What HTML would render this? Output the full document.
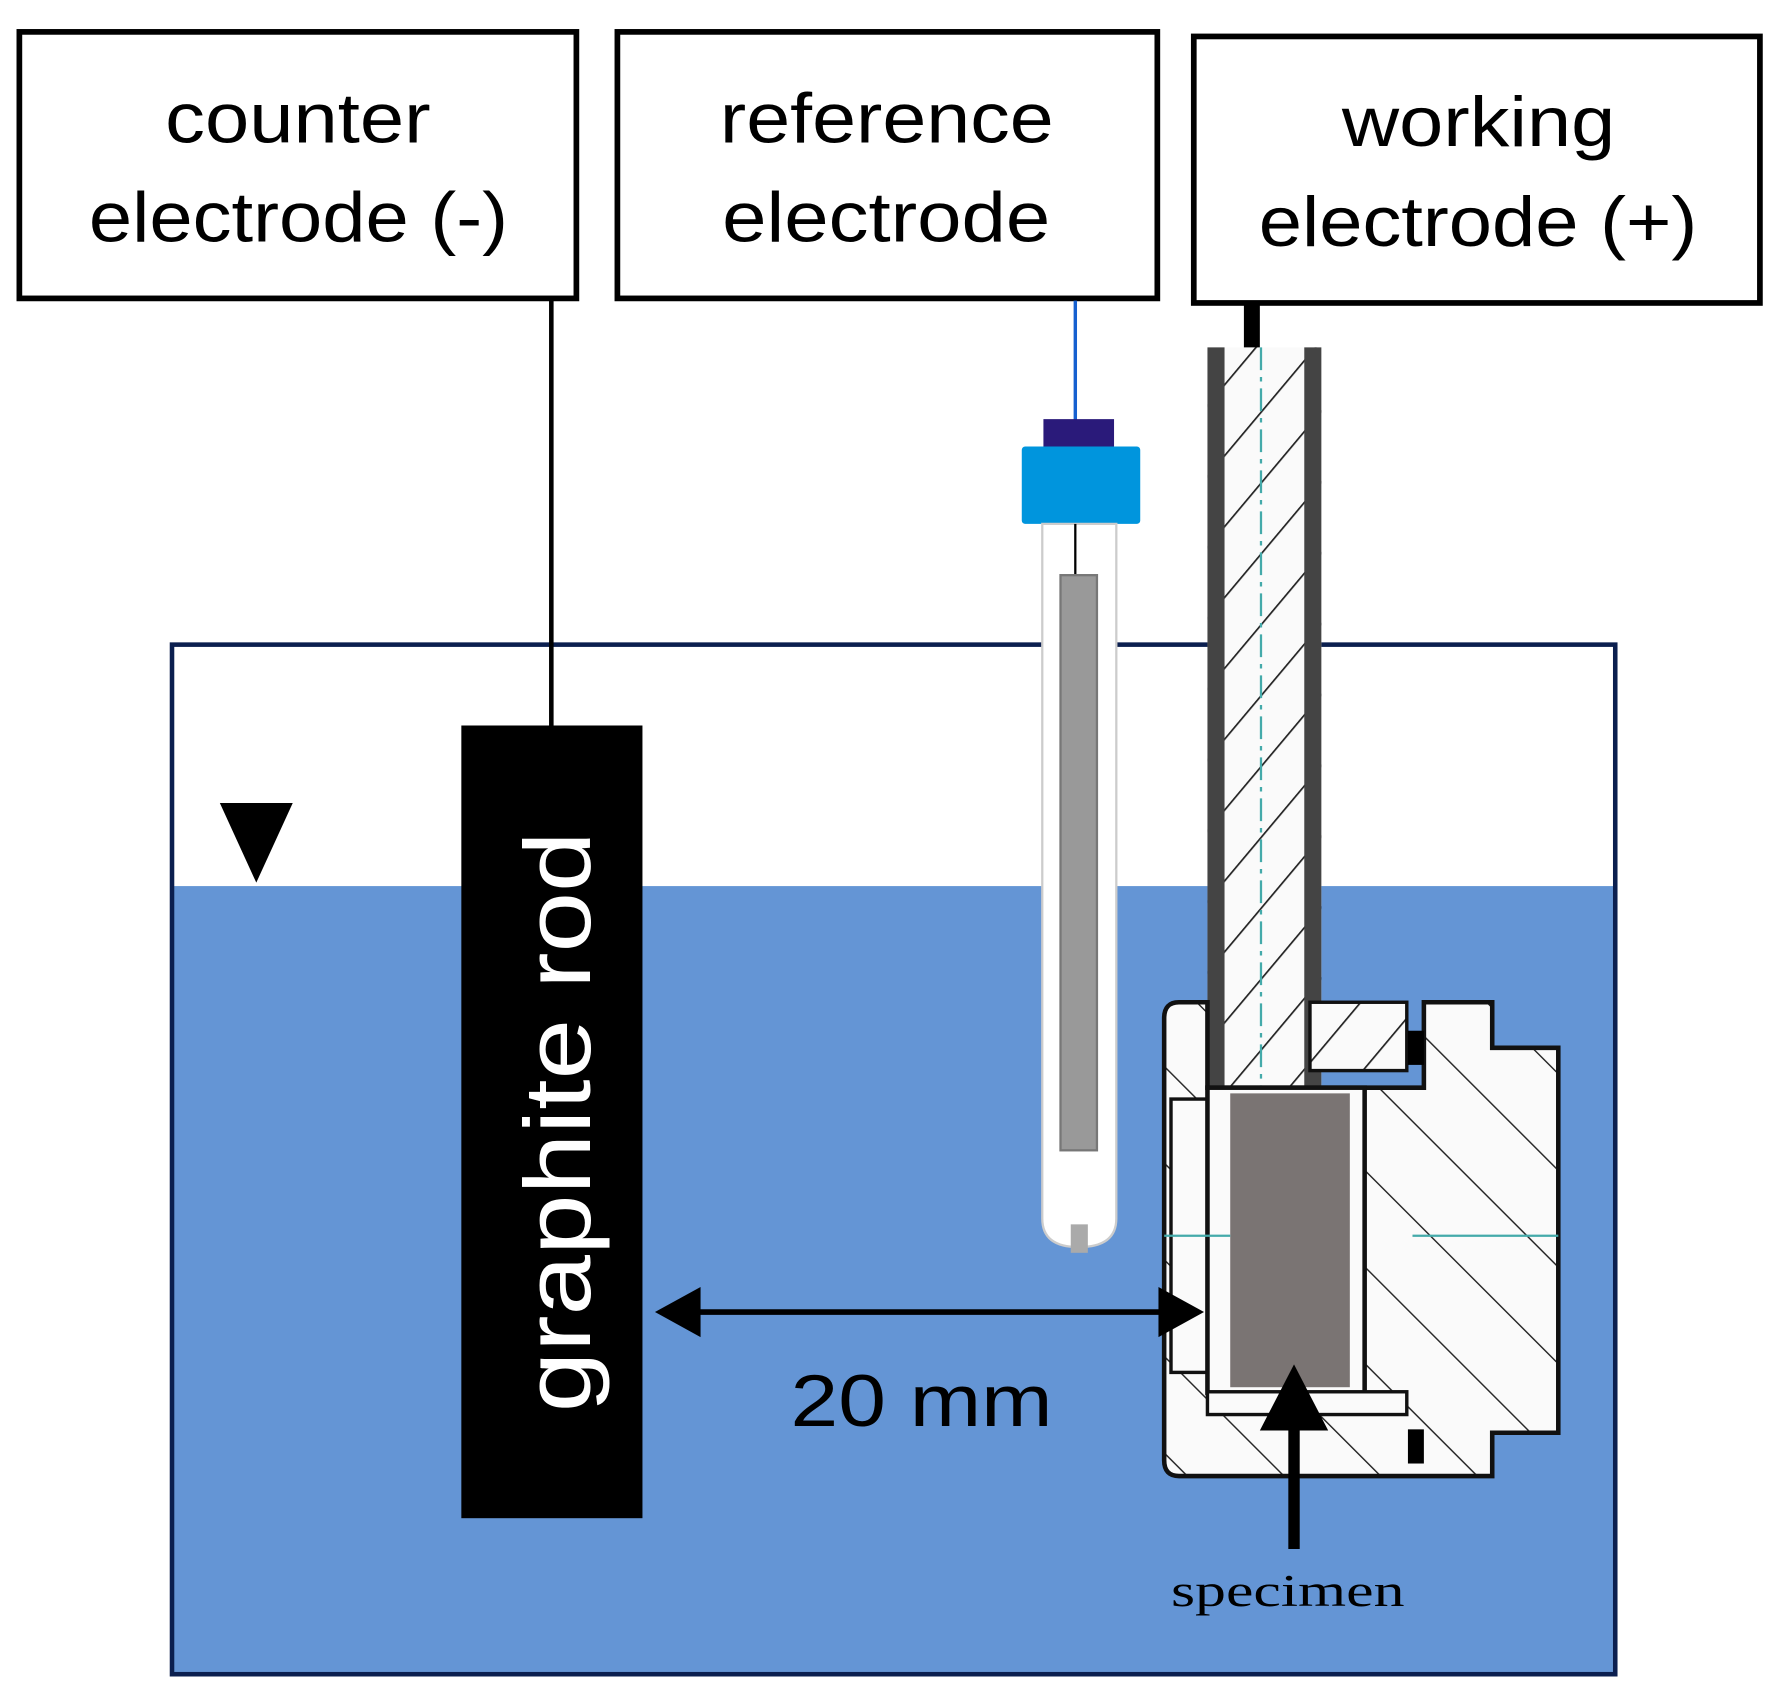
<!DOCTYPE html>
<html><head><meta charset="utf-8"><style>
html,body{margin:0;padding:0;background:#fff;}
svg{display:block;}
</style></head><body>
<svg width="1777" height="1697" viewBox="0 0 1560 1490" preserveAspectRatio="none" xmlns="http://www.w3.org/2000/svg">
<defs>
<pattern id="h" width="40" height="40" patternUnits="userSpaceOnUse" patternTransform="rotate(40)">
<rect width="40" height="40" fill="#fafafa"/><line x1="0" y1="0" x2="0" y2="40" stroke="#222" stroke-width="3"/>
</pattern>
<pattern id="h2" width="60" height="60" patternUnits="userSpaceOnUse" patternTransform="rotate(-45)">
<rect width="60" height="60" fill="#fafafa"/><line x1="0" y1="0" x2="0" y2="60" stroke="#222" stroke-width="2.5"/>
</pattern>
</defs>
<g fill="#fff" stroke="#000" stroke-width="5">
<rect x="17" y="28" width="489" height="234"/>
<rect x="542" y="28" width="474" height="234"/>
<rect x="1048" y="32" width="497" height="234"/>
</g>
<g font-family="Liberation Sans, sans-serif" font-size="62" fill="#000" lengthAdjust="spacingAndGlyphs">
<text x="145" y="125" textLength="233" lengthAdjust="spacingAndGlyphs">counter</text>
<text x="78" y="212" textLength="368" lengthAdjust="spacingAndGlyphs">electrode (-)</text>
<text x="632" y="125" textLength="293" lengthAdjust="spacingAndGlyphs">reference</text>
<text x="634" y="212" textLength="288" lengthAdjust="spacingAndGlyphs">electrode</text>
<text x="1178" y="128" textLength="240" lengthAdjust="spacingAndGlyphs">working</text>
<text x="1105" y="216" textLength="385" lengthAdjust="spacingAndGlyphs">electrode (+)</text>
</g>
<rect x="151" y="778" width="1267" height="692" fill="#6495d5"/>
<rect x="151" y="566" width="1267" height="904" fill="none" stroke="#0b1f4f" stroke-width="4"/>
<polygon points="193,705 257,705 225,775" fill="#000"/>
<line x1="484" y1="262" x2="484" y2="637" stroke="#000" stroke-width="4"/>
<rect x="405" y="637" width="159" height="696" fill="#000"/>
<text transform="translate(518,985) rotate(-90)" font-family="Liberation Sans, sans-serif" font-size="82" fill="#fff" text-anchor="middle" textLength="510" lengthAdjust="spacingAndGlyphs">graphite rod</text>
<line x1="944" y1="264" x2="944" y2="370" stroke="#1560d0" stroke-width="3"/>
<rect x="916" y="368" width="62" height="26" fill="#2a1a7a"/>
<rect x="897" y="392" width="104" height="68" fill="#0095dd" rx="3"/>
<path d="M915,460 L980,460 L980,1070 Q980,1095 947,1095 Q915,1095 915,1070 Z" fill="#fff" stroke="#ccc" stroke-width="2"/>
<line x1="944" y1="460" x2="944" y2="505" stroke="#000" stroke-width="2"/>
<rect x="931" y="505" width="32" height="505" fill="#999" stroke="#777" stroke-width="2"/>
<rect x="940" y="1075" width="15" height="25" fill="#aaa"/>
<rect x="1092" y="266" width="14" height="40" fill="#000"/>
<rect x="1060" y="305" width="100" height="650" fill="url(#h)"/>
<rect x="1060" y="305" width="15" height="650" fill="#444"/>
<rect x="1145" y="305" width="15" height="650" fill="#444"/>
<line x1="1107" y1="305" x2="1107" y2="955" stroke="#4aa" stroke-width="2" stroke-dasharray="20,6,4,6"/>
<path d="M1035,880 L1060,880 L1060,955 L1250,955 L1250,880 L1310,880 L1310,920 L1368,920 L1368,1258 L1310,1258 L1310,1296 L1035,1296 Q1022,1296 1022,1282 L1022,894 Q1022,880 1035,880 Z" fill="url(#h2)" stroke="#111" stroke-width="4"/>
<rect x="1150" y="880" width="85" height="60" fill="url(#h)" stroke="#111" stroke-width="3"/>
<rect x="1236" y="905" width="14" height="30" fill="#000"/>
<rect x="1236" y="1255" width="14" height="30" fill="#000"/>
<rect x="1028" y="965" width="50" height="240" fill="#fafafa" stroke="#111" stroke-width="3"/>
<rect x="1060" y="955" width="138" height="268" fill="#fafafa" stroke="#111" stroke-width="4"/>
<rect x="1080" y="960" width="105" height="258" fill="#7a7473"/>
<line x1="1022" y1="1085" x2="1080" y2="1085" stroke="#4aa" stroke-width="2"/>
<line x1="1240" y1="1085" x2="1368" y2="1085" stroke="#4aa" stroke-width="2"/>
<rect x="1060" y="1222" width="175" height="20" fill="#fafafa" stroke="#111" stroke-width="3"/>
<line x1="600" y1="1152" x2="1030" y2="1152" stroke="#000" stroke-width="5"/>
<polygon points="575,1152 615,1130 615,1174" fill="#000"/>
<polygon points="1057,1152 1017,1130 1017,1174" fill="#000"/>
<text x="694" y="1252" font-family="Liberation Sans, sans-serif" font-size="64" fill="#000" textLength="230" lengthAdjust="spacingAndGlyphs">20 mm</text>
<line x1="1136" y1="1250" x2="1136" y2="1360" stroke="#000" stroke-width="10"/>
<polygon points="1136,1198 1106,1256 1166,1256" fill="#000"/>
<text x="1028" y="1410" font-family="Liberation Serif, serif" font-size="40" fill="#000" textLength="205" lengthAdjust="spacingAndGlyphs">specimen</text>
</svg>
</body></html>
